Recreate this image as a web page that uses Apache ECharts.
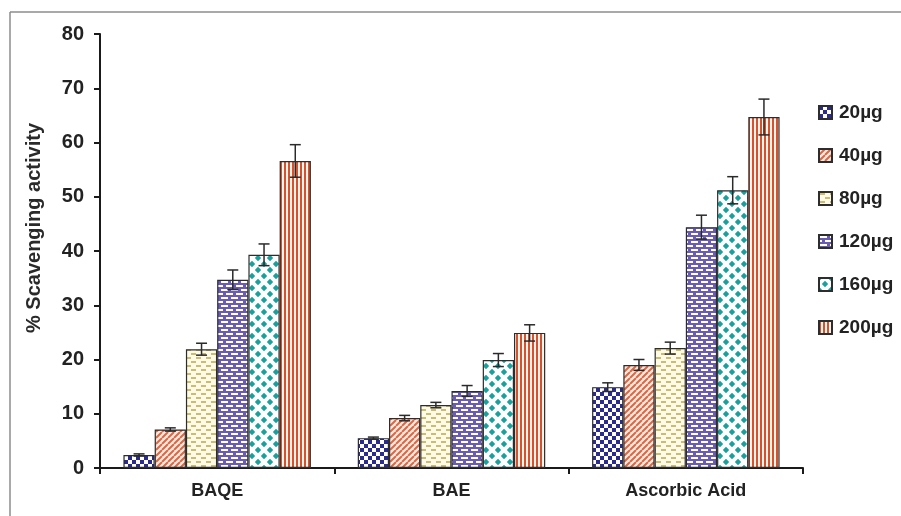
<!DOCTYPE html>
<html>
<head>
<meta charset="utf-8">
<script src="https://cdn.jsdelivr.net/npm/echarts@6/dist/echarts.min.js"></script>
<style>
html,body{margin:0;padding:0;background:#fff;}
#chart{width:901px;height:516px;}
</style>
</head>
<body>
<div id="chart"></div>
<script>
// ---- data ----
const categories = ['BAQE', 'BAE', 'Ascorbic Acid'];
const doses = ['20µg', '40µg', '80µg', '120µg', '160µg', '200µg'];
const v20 = [2.4, 5.5, 14.9];
const v40 = [7.1, 9.2, 19.0];
const v80 = [21.9, 11.6, 22.1];
const v120 = [34.7, 14.2, 44.4];
const v160 = [39.3, 19.9, 51.2];
const v200 = [56.6, 24.9, 64.7];
const e20 = [0.2, 0.2, 0.8];
const e40 = [0.3, 0.5, 1.0];
const e80 = [1.1, 0.5, 1.1];
const e120 = [1.8, 1.0, 2.2];
const e160 = [2.0, 1.2, 2.5];
const e200 = [3.0, 1.5, 3.3];
const yTicks = [0, 10, 20, 30, 40, 50, 60, 70, 80];
const yTitle = '% Scavenging activity';

const values = [v20, v40, v80, v120, v160, v200];
const errors = [e20, e40, e80, e120, e160, e200];

// ---- patterns ----
function mk(w, h, draw) {
  const c = document.createElement('canvas');
  c.width = w; c.height = h;
  const g = c.getContext('2d');
  draw(g, w, h);
  return { image: c, repeat: 'repeat' };
}
const patterns = [
  // checkerboard navy
  mk(8, 8, (g) => {
    g.fillStyle = '#ffffff'; g.fillRect(0, 0, 8, 8);
    g.fillStyle = '#2b2b8e'; g.fillRect(0, 0, 4, 4); g.fillRect(4, 4, 4, 4);
  }),
  // diagonal stripes orange
  mk(6, 6, (g) => {
    g.fillStyle = '#fbe9e2'; g.fillRect(0, 0, 6, 6);
    g.strokeStyle = '#dc6843'; g.lineWidth = 2;
    g.beginPath();
    for (let k = -6; k <= 12; k += 6) { g.moveTo(k, 6); g.lineTo(k + 6, 0); }
    g.stroke();
  }),
  // cream with tan dashes
  mk(10, 8, (g) => {
    g.fillStyle = '#fdfbe8'; g.fillRect(0, 0, 10, 8);
    g.fillStyle = '#cdbb70';
    g.fillRect(1, 1, 5, 2); g.fillRect(6, 5, 5, 2); g.fillRect(0, 5, 1, 2);
  }),
  // purple bricks
  mk(10, 8, (g) => {
    g.fillStyle = '#6a5cb2'; g.fillRect(0, 0, 10, 8);
    g.fillStyle = '#ffffff';
    g.fillRect(1, 1, 7, 2); g.fillRect(6, 5, 4, 2); g.fillRect(0, 5, 3, 2);
  }),
  // teal diamonds
  mk(12, 12, (g) => {
    g.fillStyle = '#ffffff'; g.fillRect(0, 0, 12, 12);
    g.fillStyle = '#17a09c';
    const r = 3.2;
    const d = (x, y) => { g.beginPath(); g.moveTo(x, y - r); g.lineTo(x + r, y); g.lineTo(x, y + r); g.lineTo(x - r, y); g.closePath(); g.fill(); };
    d(0, 0); d(12, 0); d(0, 12); d(12, 12); d(6, 6);
  }),
  // vertical stripes red
  mk(4, 4, (g) => {
    g.fillStyle = '#fff4ee'; g.fillRect(0, 0, 4, 4);
    g.fillStyle = '#d4532c'; g.fillRect(0, 0, 2, 4);
  })
];

const barCatGapPct = 20;
const series = [];
doses.forEach((d, i) => {
  series.push({
    name: d,
    type: 'bar',
    data: values[i],
    barGap: '0%',
    barCategoryGap: barCatGapPct + '%',
    itemStyle: { color: patterns[i], borderColor: '#2d2d2d', borderWidth: 1.2 },
    emphasis: { disabled: true },
    z: 2
  });
});
// error bars
series.push({
  type: 'custom',
  name: 'err',
  z: 5,
  silent: true,
  data: (function () {
    const out = [];
    doses.forEach((d, i) => {
      categories.forEach((c, j) => out.push([j, values[i][j], errors[i][j], i]));
    });
    return out;
  })(),
  encode: { x: 0, y: 1 },
  renderItem: function (params, api) {
    const cat = api.value(0), val = api.value(1), err = api.value(2), si = api.value(3);
    const catW = api.size([1, 0])[0];
    const bw = catW * (1 - barCatGapPct / 100) / doses.length;
    const c = api.coord([cat, val]);
    const x = c[0] + (si - (doses.length - 1) / 2) * bw;
    const yT = api.coord([cat, val + err])[1];
    const yB = api.coord([cat, val - err])[1];
    const cap = 5.5;
    const st = { stroke: '#2a2a2a', lineWidth: 1.5 };
    return {
      type: 'group',
      children: [
        { type: 'line', shape: { x1: x, y1: yT, x2: x, y2: yB }, style: st },
        { type: 'line', shape: { x1: x - cap, y1: yT, x2: x + cap, y2: yT }, style: st },
        { type: 'line', shape: { x1: x - cap, y1: yB, x2: x + cap, y2: yB }, style: st }
      ]
    };
  }
});

const chart = echarts.init(document.getElementById('chart'), null, { renderer: 'canvas' });
chart.setOption({
  animation: false,
  backgroundColor: '#ffffff',
  textStyle: { fontFamily: 'Liberation Sans, Arial, sans-serif' },
  grid: { left: 100, right: 98, top: 34, bottom: 48, containLabel: false },
  legend: {
    data: doses,
    orient: 'vertical',
    left: 813,
    top: 98,
    itemWidth: 13,
    itemHeight: 13,
    itemGap: 24,
    icon: 'rect',
    textStyle: { fontSize: 19, fontWeight: 'bold', color: '#222', padding: [0, 0, 0, 2] }
  },
  xAxis: {
    type: 'category',
    data: categories,
    axisLine: { lineStyle: { color: '#1a1a1a', width: 2 } },
    axisTick: { show: true, length: 6, inside: false, alignWithLabel: false, lineStyle: { color: '#1a1a1a', width: 2 } },
    axisLabel: { fontSize: 18, fontWeight: 'bold', color: '#222', margin: 14 }
  },
  yAxis: {
    type: 'value',
    min: 0, max: 80, interval: 10,
    splitLine: { show: false },
    axisLine: { show: true, lineStyle: { color: '#1a1a1a', width: 2 } },
    axisTick: { show: true, length: 6, lineStyle: { color: '#1a1a1a', width: 2 } },
    axisLabel: { fontSize: 20, fontWeight: 'bold', color: '#222', margin: 16,
      formatter: (v) => yTicks.indexOf(v) >= 0 ? String(v) : '' }
  },
  graphic: [
    { type: 'line', shape: { x1: 10, y1: 12, x2: 901, y2: 12 }, style: { stroke: '#8c8c8c', lineWidth: 1.5 }, silent: true },
    { type: 'line', shape: { x1: 10, y1: 12, x2: 10, y2: 516 }, style: { stroke: '#8c8c8c', lineWidth: 1.5 }, silent: true },
    { type: 'text', x: 34, y: 228, rotation: Math.PI / 2, silent: true,
      style: { text: yTitle, fontSize: 20, fontWeight: 'bold', fill: '#2a2a2a',
        fontFamily: 'Liberation Sans, Arial, sans-serif', align: 'center', verticalAlign: 'middle' } }
  ],
  series: series
});
</script>
</body>
</html>
